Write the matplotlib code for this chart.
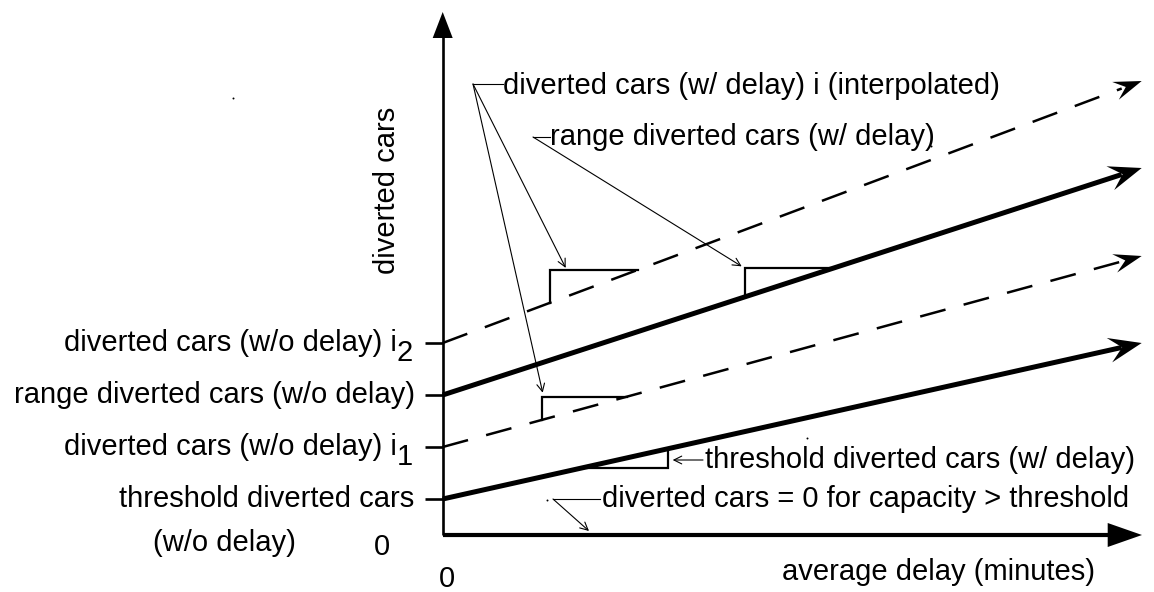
import numpy as np
import matplotlib
matplotlib.use("Agg")
import matplotlib.pyplot as plt
from matplotlib.patches import Polygon

plt.rcParams['font.family'] = ['Liberation Sans Narrow', 'Liberation Sans', 'DejaVu Sans']

# schematic values (arbitrary units, x = average delay, y = diverted cars)
delay_end = 699
line_names = ["threshold", "i1", "range", "i2"]
line_start = [36, 88, 140, 192]
line_end = [192, 279, 367, 454]
line_dashed = [False, True, False, True]

# small step marks on each line (x where the step starts / ends)
step_x0 = [140, 99, 302, 107]
step_x1 = [225, 184, 390, 195]

tick_text = ["threshold diverted cars", "diverted cars (w/o delay) i",
             "range diverted cars (w/o delay)", "diverted cars (w/o delay) i"]
tick_sub = ["", "1", "", "2"]

stray_dots_x = [-209.7, 104.3, 364.3, 488.3]
stray_dots_y = [437, 35, 97, 389]


def line_at(i, x):
    return line_start[i] + (line_end[i] - line_start[i]) * x / delay_end


def head(ax, tip, direction, length, half, notch, lw=0):
    d = np.asarray(direction, float)
    d = d / np.hypot(*d)
    n = np.array([-d[1], d[0]])
    tip = np.asarray(tip, float)
    pts = [tip,
           tip - length * d + half * n,
           tip - notch * d,
           tip - length * d - half * n]
    ax.add_patch(Polygon(pts, closed=True, facecolor='black',
                         edgecolor='black', lw=lw, joinstyle='miter'))


fig = plt.figure(figsize=(11.54, 5.92), dpi=100)
ax = fig.add_axes([0, 0, 1, 1])
ax.set_xlim(-442.7, 711.3)
ax.set_ylim(-57, 535)
ax.axis('off')

FS = 21

# axes arrows
ax.plot([0, 0], [0, 499], color='black', lw=1.9, solid_capstyle='butt')
ax.add_patch(Polygon([(0, 523), (-10, 497), (10, 497)], closed=True,
                     facecolor='black', edgecolor='black', lw=0))
ax.plot([0, 667], [0, 0], color='black', lw=3.0, solid_capstyle='butt')
ax.add_patch(Polygon([(699.3, 0), (665, 12), (665, -12)], closed=True,
                     facecolor='black', edgecolor='black', lw=0))

# ticks and their labels
for i, yv in enumerate(line_start):
    ax.plot([-17.7, 0], [yv, yv], color='black', lw=1.9, solid_capstyle='butt')
    if tick_sub[i]:
        ax.text(-46, yv, tick_text[i], ha='right', va='center', fontsize=FS)
        ax.text(-46, yv - 10, tick_sub[i], ha='left', va='center', fontsize=FS)
    else:
        ax.text(-28, yv, tick_text[i], ha='right', va='center', fontsize=FS)
ax.text(-218.7, -8, "(w/o delay)", ha='center', va='center', fontsize=FS)
ax.text(-60.7, -12, "0", ha='center', va='center', fontsize=FS)
ax.text(4.3, -44, "0", ha='center', va='center', fontsize=FS)
ax.text(-55.7, 345, "diverted cars", ha='center', va='center',
        rotation=90, fontsize=FS)
ax.text(495.3, -37, "average delay (minutes)", ha='center', va='center',
        fontsize=FS)

# the four lines
for i in range(len(line_names)):
    xs = np.array([0, delay_end - 20])
    ys = line_at(i, xs)
    if line_dashed[i]:
        ax.plot(xs, ys, color='black', lw=1.8, linestyle=(0, (10.5, 7.5)),
                dash_capstyle='butt')
        head(ax, (delay_end, line_end[i]), (delay_end, line_end[i] - line_start[i]),
             28, 9.5, 17)
    else:
        ax.plot(xs, ys, color='black', lw=3.6, solid_capstyle='butt')
        head(ax, (delay_end, line_end[i]), (delay_end, line_end[i] - line_start[i]),
             33, 12.5, 20)

# step marks
for i in range(len(line_names)):
    x0, x1 = step_x0[i], step_x1[i]
    y0, y1 = line_at(i, x0), line_at(i, x1)
    if line_names[i] == "threshold":
        ax.plot([x0, x1, x1], [y0, y0, y1], color='black', lw=1.6,
                solid_joinstyle='miter')
    else:
        ax.plot([x0, x0, x1], [y0, y1, y1], color='black', lw=1.6,
                solid_joinstyle='miter')

# annotations
arrow = dict(arrowstyle='->', lw=0.8, color='black', shrinkA=0, shrinkB=0,
             mutation_scale=14)
thin = dict(color='black', lw=0.8)

ax.text(60.3, 449, "diverted cars (w/ delay) i (interpolated)", ha='left',
        va='center', fontsize=FS)
ax.plot([30.3, 60.3], [451, 451], **thin)
ax.annotate("", xy=(step_x0[3] + 16, line_at(3, step_x1[3]) + 2), xytext=(30.3, 451),
            arrowprops=arrow)
ax.annotate("", xy=(step_x0[1] + 1, line_at(1, step_x1[1]) + 4), xytext=(30.3, 451),
            arrowprops=arrow)

ax.text(107.3, 398, "range diverted cars (w/ delay)", ha='left', va='center',
        fontsize=FS)
ax.plot([90.3, 107.3], [398, 398], **thin)
ax.annotate("", xy=(step_x0[2] - 3, line_at(2, step_x1[2]) + 2), xytext=(90.3, 398),
            arrowprops=arrow)

ax.text(262.3, 75, "threshold diverted cars (w/ delay)", ha='left', va='center',
        fontsize=FS)
ax.annotate("", xy=(step_x1[0] + 5, 75), xytext=(260.3, 75), arrowprops=arrow)

ax.text(159.3, 36, "diverted cars = 0 for capacity > threshold", ha='left',
        va='center', fontsize=FS)
ax.plot([110.3, 157.3], [36, 36], **thin)
ax.annotate("", xy=(146.3, 4), xytext=(110.3, 36), arrowprops=arrow)

ax.scatter(stray_dots_x, stray_dots_y, s=2, color='black', lw=0)

fig.savefig("out.png", dpi=100, facecolor='white')
